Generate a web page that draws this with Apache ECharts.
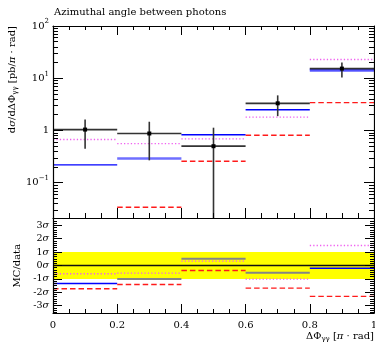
<!DOCTYPE html>
<html><head><meta charset="utf-8">
<script src="https://cdn.jsdelivr.net/npm/echarts@6/dist/echarts.min.js"></script>
<style>html,body{margin:0;padding:0;background:#fff}#c{width:375px;height:342px}</style>
</head><body><div id="c"></div>
<script>
// ---- data ----
const binEdges = [0, 0.2, 0.4, 0.6, 0.8, 1.0];
const dataValues = [1.04, 0.875, 0.50, 3.31, 15.3];
const dataHigh = [1.63, 1.47, 1.13, 4.7, 20.0];
const dataLow = [0.445, 0.268, 0.001, 1.88, 10.3];
const blueValues = [0.219, 0.29, 0.83, 2.5, 14.4];
const magentaValues = [0.67, 0.56, 0.69, 1.80, 22.8];
const redValues = [null, 0.034, 0.257, 0.81, 3.41];
const blueRatio = [-1.34, -1.0, 0.5, -0.55, -0.2];
const magentaRatio = [-0.62, -0.57, 0.33, -1.02, 1.49];
const redRatio = [-1.74, -1.42, -0.37, -1.69, -2.31];
const xTickValues = [0, 0.2, 0.4, 0.6, 0.8, 1];
const xTickLabels = ['0', '0.2', '0.4', '0.6', '0.8', '1'];
const yTickValues = [0.1, 1, 10, 100];
const yTickLabels = [['10', '\u22121'], ['1', ''], ['10', '1'], ['10', '2']];
const ratioTickValues = [-3, -2, -1, 0, 1, 2, 3];
const ratioTickLabels = ['-3', '-2', '-1', '0', '1', '2', '3'];

// ---- helpers ----
const SERIF = 'DejaVu Serif';
const Y_MIN = 0.0211, Y_MAX = 100, R_MIN = -3.55, R_MAX = 3.55;
const AX_Z = 1; // axes live on their own canvas layer above the series
const xMinor = [];
for (let k = 1; k < 20; k++) if (k % 4) xMinor.push(+(k * 0.05).toFixed(2));
const yMinor = [];
[0.01, 0.1, 1, 10].forEach(d => { for (let m = 2; m <= 9; m++) { const v = +(m * d).toPrecision(3); if (v > Y_MIN && v < Y_MAX) yMinor.push(v); } });
const rMinor = [];
for (let k = -21; k <= 21; k++) if (k % 6) rMinor.push(+(k / 6).toFixed(4));

function findIdx(arr, v) { for (let i = 0; i < arr.length; i++) if (Math.abs(arr[i] - v) < 1e-6 * Math.max(1, Math.abs(v))) return i; return -1; }

function xAx(grid, pos, ticks, len, showLine, labels) {
  return {
    type: 'value', gridIndex: grid, position: pos, min: 0, max: 1, zlevel: AX_Z, z: 2,
    axisLine: { show: showLine, onZero: false, lineStyle: { color: '#000', width: 1.2 } },
    axisTick: { show: true, inside: true, length: len, customValues: ticks.slice(), lineStyle: { color: '#000', width: 1 } },
    axisLabel: labels ? {
      show: true, customValues: xTickValues.slice(), margin: 7, color: '#000', fontFamily: SERIF, fontSize: 10,
      formatter: v => { const i = findIdx(xTickValues, v); return i >= 0 ? xTickLabels[i] : ''; }
    } : { show: false },
    splitLine: { show: false }
  };
}
function yLog(pos, ticks, len, showLine, labels) {
  return {
    type: 'log', logBase: 10, gridIndex: 0, position: pos, min: Y_MIN, max: Y_MAX, zlevel: AX_Z, z: 2,
    axisLine: { show: showLine, onZero: false, lineStyle: { color: '#000', width: 1.2 } },
    axisTick: { show: true, inside: true, length: len, customValues: ticks.slice(), lineStyle: { color: '#000', width: 1 } },
    axisLabel: labels ? {
      show: true, customValues: yTickValues.slice(), margin: 4, color: '#000',
      formatter: v => { const i = findIdx(yTickValues, v); if (i < 0) return ''; const t = yTickLabels[i]; return '{b|' + t[0] + '}' + (t[1] ? '{s|' + t[1] + '}' : ''); },
      rich: {
        b: { fontFamily: SERIF, fontSize: 10, lineHeight: 16, color: '#000' },
        s: { fontFamily: SERIF, fontSize: 7, lineHeight: 8, verticalAlign: 'top', color: '#000' }
      }
    } : { show: false },
    splitLine: { show: false }
  };
}
function yRatio(pos, ticks, len, showLine, labels) {
  return {
    type: 'value', gridIndex: 1, position: pos, min: R_MIN, max: R_MAX, zlevel: AX_Z, z: 2,
    axisLine: { show: showLine, onZero: false, lineStyle: { color: '#000', width: 1.2 } },
    axisTick: { show: true, inside: true, length: len, customValues: ticks.slice(), lineStyle: { color: '#000', width: 1 } },
    axisLabel: labels ? {
      show: true, customValues: ratioTickValues.slice(), margin: 4, color: '#000',
      formatter: v => { const i = findIdx(ratioTickValues, v); return i >= 0 ? '{n|' + ratioTickLabels[i] + '}{s|\u03C3}' : ''; },
      rich: {
        n: { fontFamily: SERIF, fontSize: 9.5, color: '#000' },
        s: { fontFamily: SERIF, fontSize: 9.5, fontStyle: 'italic', color: '#000' }
      }
    } : { show: false },
    splitLine: { show: false }
  };
}

function stepSeries(values, xi, yi, styleFn, z) {
  const data = [];
  values.forEach((v, i) => { if (v != null) data.push([binEdges[i], binEdges[i + 1], v, i]); });
  return {
    type: 'custom', xAxisIndex: xi, yAxisIndex: yi, clip: false, zlevel: 0, z: z || 3, silent: true,
    encode: { x: [0, 1], y: 2 },
    data: data,
    renderItem: (params, api) => {
      const i = api.value(3), v = api.value(2);
      const p0 = api.coord([api.value(0), v]);
      const p1 = api.coord([api.value(1), v]);
      const styles = styleFn(i);
      return {
        type: 'group',
        children: styles.map(s => ({
          type: 'line',
          shape: { x1: p0[0], y1: p0[1], x2: p1[0], y2: p1[1] },
          style: s.d ? { stroke: s.c, lineWidth: s.w, lineDash: s.d } : { stroke: s.c, lineWidth: s.w }
        }))
      };
    }
  };
}

const magentaStyle = () => [{ c: '#f060f0', w: 1.4, d: [1.3, 2.1] }];
const redStyle = () => [{ c: '#ff1a1a', w: 1.4, d: [5.5, 3] }];
const blueUpperStyle = i => [
  [{ c: '#0000ff', w: 1.3 }],
  [{ c: '#6f6fff', w: 2.6 }],
  [{ c: '#0000ff', w: 1.6 }],
  [{ c: '#0000ff', w: 1.6 }],
  [{ c: '#8585ff', w: 4 }, { c: '#2020ff', w: 1.2 }]
][i];
const blueRatioStyle = i => [
  [{ c: '#0000ff', w: 1.5 }],
  [{ c: '#858585', w: 2 }],
  [{ c: '#858585', w: 2 }],
  [{ c: '#858585', w: 2 }],
  [{ c: '#0000ff', w: 1.5 }]
][i];

const dataSeries = {
  type: 'custom', xAxisIndex: 0, yAxisIndex: 0, clip: false, zlevel: 0, z: 5, silent: true,
  encode: { x: 0, y: 1 },
  data: dataValues.map((v, i) => [(binEdges[i] + binEdges[i + 1]) / 2, v, dataLow[i], dataHigh[i], binEdges[i], binEdges[i + 1]]),
  renderItem: (params, api) => {
    const x = api.value(0), v = api.value(1);
    const c = api.coord([x, v]);
    const lo = api.coord([x, Math.max(api.value(2), Y_MIN)]);
    const hi = api.coord([x, Math.min(api.value(3), Y_MAX)]);
    const l = api.coord([api.value(4), v]);
    const r = api.coord([api.value(5), v]);
    return {
      type: 'group', children: [
        { type: 'line', shape: { x1: l[0], y1: l[1], x2: r[0], y2: r[1] }, style: { stroke: '#333', lineWidth: 1.7 } },
        { type: 'line', shape: { x1: lo[0], y1: lo[1], x2: hi[0], y2: hi[1] }, style: { stroke: '#333', lineWidth: 1.6 } },
        { type: 'rect', shape: { x: c[0] - 2, y: c[1] - 2, width: 4, height: 4 }, style: { fill: '#000' } }
      ]
    };
  }
};

const bandSeries = {
  type: 'custom', xAxisIndex: 4, yAxisIndex: 4, clip: false, zlevel: 0, z: 1, silent: true,
  encode: { x: [0, 1], y: [2, 3] },
  data: [[0, 1, -1, 1]],
  renderItem: (params, api) => {
    const a = api.coord([api.value(0), api.value(3)]);
    const b = api.coord([api.value(1), api.value(2)]);
    return { type: 'rect', shape: { x: a[0], y: a[1], width: b[0] - a[0], height: b[1] - a[1] }, style: { fill: '#ffff00' } };
  }
};
const zeroSeries = {
  type: 'custom', xAxisIndex: 4, yAxisIndex: 4, clip: false, zlevel: 0, z: 2, silent: true,
  encode: { x: [0, 1], y: 2 },
  data: [[0, 1, 0]],
  renderItem: (params, api) => {
    const a = api.coord([api.value(0), api.value(2)]);
    const b = api.coord([api.value(1), api.value(2)]);
    return { type: 'line', shape: { x1: a[0], y1: a[1], x2: b[0], y2: b[1] }, style: { stroke: '#111', lineWidth: 1.3 } };
  }
};

const chart = echarts.init(document.getElementById('c'), null, { renderer: 'canvas' });
chart.setOption({
  animation: false,
  backgroundColor: '#fff',
  grid: [
    { left: 53, right: 1, top: 26, height: 192, outerBoundsMode: 'none', containLabel: false },
    { left: 53, right: 1, top: 218, height: 95, outerBoundsMode: 'none', containLabel: false }
  ],
  xAxis: [
    xAx(0, 'bottom', xTickValues, 10, true, false),
    xAx(0, 'bottom', xMinor, 5, false, false),
    xAx(0, 'top', xTickValues, 9, true, false),
    xAx(0, 'top', xMinor, 4, false, false),
    xAx(1, 'bottom', xTickValues, 9, true, true),
    xAx(1, 'bottom', xMinor, 4, false, false)
  ],
  yAxis: [
    yLog('left', yTickValues, 10, true, true),
    yLog('left', yMinor, 5, false, false),
    yLog('right', yTickValues, 10, true, false),
    yLog('right', yMinor, 5, false, false),
    yRatio('left', ratioTickValues, 9, true, true),
    yRatio('left', rMinor, 4, false, false),
    yRatio('right', ratioTickValues, 9, true, false),
    yRatio('right', rMinor, 4, false, false)
  ],
  series: [
    bandSeries,
    zeroSeries,
    stepSeries(blueValues, 0, 0, blueUpperStyle, 3),
    stepSeries(magentaValues, 0, 0, magentaStyle, 3),
    stepSeries(redValues, 0, 0, redStyle, 3),
    dataSeries,
    stepSeries(blueRatio, 4, 4, blueRatioStyle, 3),
    stepSeries(magentaRatio, 4, 4, magentaStyle, 3),
    stepSeries(redRatio, 4, 4, redStyle, 3)
  ],
  graphic: [
    { type: 'text', zlevel: 0, x: 54, y: 12.5, style: { text: 'Azimuthal angle between photons', fontFamily: SERIF, fontSize: 10, fill: '#000', verticalAlign: 'middle', align: 'left' } },
    { type: 'text', zlevel: 0, x: 374, y: 336, style: {
        text: '{t|\u0394\u03A6}{u|\u03B3\u03B3}{t| [}{i|\u03C0}{t| \u00B7 rad]}', align: 'right', verticalAlign: 'middle',
        rich: {
          t: { fontFamily: SERIF, fontSize: 10, lineHeight: 14, fill: '#000' },
          i: { fontFamily: SERIF, fontSize: 10, lineHeight: 14, fontStyle: 'italic', fill: '#000' },
          u: { fontFamily: SERIF, fontSize: 7, lineHeight: 8, verticalAlign: 'bottom', fill: '#000' }
        } } },
    { type: 'text', zlevel: 0, x: 12, y: 26, rotation: Math.PI / 2, style: {
        text: '{t|d}{i|\u03C3}{t|/d\u0394\u03A6}{u|\u03B3\u03B3}{t| [pb/}{i|\u03C0}{t| \u00B7 rad]}', align: 'right', verticalAlign: 'middle',
        rich: {
          t: { fontFamily: SERIF, fontSize: 10, lineHeight: 14, fill: '#000' },
          i: { fontFamily: SERIF, fontSize: 10, lineHeight: 14, fontStyle: 'italic', fill: '#000' },
          u: { fontFamily: SERIF, fontSize: 7, lineHeight: 8, verticalAlign: 'bottom', fill: '#000' }
        } } },
    { type: 'text', zlevel: 0, x: 17, y: 265.7, rotation: Math.PI / 2, style: { text: 'MC/data', fontFamily: SERIF, fontSize: 10, fill: '#000', align: 'center', verticalAlign: 'middle' } }
  ]
});
</script>
</body></html>
